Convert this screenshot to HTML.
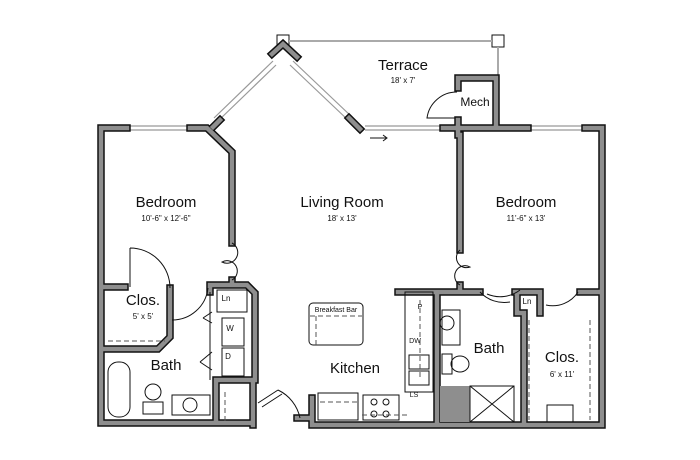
<!DOCTYPE html>
<html><head><meta charset="utf-8"><style>
html,body{margin:0;padding:0;background:#fff}
svg{display:block}
text{font-family:"Liberation Sans",sans-serif;fill:#111}
.w{fill:none;stroke:#111;stroke-width:7.5;stroke-linejoin:miter;stroke-linecap:square}
.wi{fill:none;stroke:#8e8e8e;stroke-width:4.5;stroke-linejoin:miter;stroke-linecap:square}
.t{fill:none;stroke:#111;stroke-width:1}
.g{fill:none;stroke:#999;stroke-width:1.2}
.d{fill:none;stroke:#555;stroke-width:1;stroke-dasharray:5 3}
</style></head><body>
<svg width="700" height="460" viewBox="0 0 700 460" xmlns="http://www.w3.org/2000/svg">
<defs>
<path id="walls" fill="none" d="M127 128 H101 V423 H253 M190 128 H207 L232 152 V243 M232 280 V283 M101 287 H125 M101 349 H158 L170 337 V288 M210 285 H247 L255 293 V380 M210 285 V292 M216 380 H253 M216 380 V423 M253 380 V425 M297 418 H312 V425 M312 398 V425 H602 V128 H585 M528 128 H443 M496 128 V78 H458 V88 M458 120 V135 M460 135 V250 M460 285 V292 M272 54 L283 44 L297 57 M213 127 L220 120 M349 118 L360 129 M398 292 H480 M515 292 H540 M580 292 H602 M517 292 V313 H524 V425 M540 292 V313 M437 292 V425"/>
</defs>
<rect x="277" y="35" width="12" height="12" fill="#fff" stroke="#111"/>
<rect x="492" y="35" width="12" height="12" fill="#fff" stroke="#111"/>
<line x1="289" y1="41" x2="492" y2="41" stroke="#aaa" stroke-width="2"/>
<line x1="498" y1="47" x2="498" y2="75" stroke="#aaa" stroke-width="2"/>
<g class="g">
<line x1="127" y1="126" x2="190" y2="126"/><line x1="127" y1="130" x2="190" y2="130"/>
<line x1="214" y1="118" x2="273" y2="61"/><line x1="218" y1="121" x2="276" y2="65"/>
<line x1="293" y1="61" x2="352" y2="117"/><line x1="290" y1="65" x2="349" y2="121"/>
<line x1="365" y1="126" x2="443" y2="126"/><line x1="365" y1="130" x2="443" y2="130"/>
<line x1="528" y1="126" x2="585" y2="126"/><line x1="528" y1="130" x2="585" y2="130"/>
</g>
<use href="#walls" class="w"/>
<use href="#walls" class="wi"/>
<rect x="440" y="386" width="30" height="36" fill="#8e8e8e"/>
<g class="t">
<path d="M457 92 A30 30 0 0 0 427 118 H455"/>
<path d="M232 243 A10 10 0 0 1 222 262 A10 10 0 0 1 232 280"/>
<path d="M460 250 A10 10 0 0 0 470 267 A10 10 0 0 0 460 285"/>
<path d="M130 248 V287 M130 248 A40 40 0 0 1 170 288"/>
<path d="M172 320 A36 36 0 0 0 208 288"/>
<path d="M520 290 A33 33 0 0 1 487 294 M510 302 A33 33 0 0 1 480 292"/>
<path d="M546 305 A30 30 0 0 0 578 292"/>
<path d="M258 403 L278 390 M262 407 L282 394 M278 390 A40 40 0 0 1 300 418"/>
<path d="M203 318 L212 323 M203 318 L212 312 M200 362 L212 370 M200 362 L212 352"/>
<line x1="370" y1="138" x2="386" y2="138"/><path d="M383 135 L387 138 L383 141"/>
<line x1="210" y1="292" x2="210" y2="380"/>
</g>
<g class="t">
<rect x="108" y="362" width="22" height="55" rx="10"/>
<circle cx="153" cy="392" r="8"/><rect x="143" y="402" width="20" height="12"/>
<rect x="172" y="395" width="38" height="20"/><circle cx="190" cy="405" r="7"/>
<rect x="222" y="318" width="22" height="28"/><rect x="222" y="348" width="22" height="28"/>
<rect x="217" y="290" width="30" height="22"/>
<rect x="309" y="303" width="54" height="42" rx="4"/>
<rect x="318" y="393" width="40" height="27"/><rect x="363" y="395" width="36" height="25"/>
<circle cx="374" cy="402" r="3"/><circle cx="386" cy="402" r="3"/><circle cx="374" cy="414" r="3"/><circle cx="386" cy="414" r="3"/>
<rect x="405" y="292" width="28" height="100"/><rect x="409" y="355" width="20" height="14"/><rect x="409" y="371" width="20" height="14"/>
<rect x="442" y="310" width="18" height="35"/><circle cx="447" cy="323" r="7"/>
<rect x="442" y="354" width="10" height="20"/><ellipse cx="460" cy="364" rx="9" ry="8"/>
<rect x="470" y="386" width="44" height="36"/><path d="M470 386 L514 422 M514 386 L470 422"/>
<rect x="547" y="405" width="26" height="17"/>
</g>
<g class="d">
<path d="M108 341 H165 M310 316 H362 M316 316 V345 M420 300 V380 M320 402 H360 M362 415 H410 M529 320 V420 M590 320 V420 M225 392 V422"/>
</g>
<g text-anchor="middle">
<text x="403" y="70" font-size="15">Terrace</text>
<text x="403" y="83" font-size="8">18' x 7'</text>
<text x="475" y="106" font-size="12">Mech</text>
<text x="166" y="207" font-size="15">Bedroom</text>
<text x="166" y="221" font-size="8">10'-6" x 12'-6"</text>
<text x="342" y="207" font-size="15">Living Room</text>
<text x="342" y="221" font-size="8">18' x 13'</text>
<text x="526" y="207" font-size="15">Bedroom</text>
<text x="526" y="221" font-size="8">11'-6" x 13'</text>
<text x="143" y="305" font-size="15">Clos.</text>
<text x="143" y="319" font-size="8">5' x 5'</text>
<text x="226" y="301" font-size="8">Ln</text>
<text x="230" y="331" font-size="8">W</text>
<text x="228" y="359" font-size="8">D</text>
<text x="166" y="370" font-size="15">Bath</text>
<text x="336" y="312" font-size="7">Breakfast Bar</text>
<text x="355" y="373" font-size="15">Kitchen</text>
<text x="489" y="353" font-size="15">Bath</text>
<text x="562" y="362" font-size="15">Clos.</text>
<text x="562" y="377" font-size="8">6' x 11'</text>
<text x="527" y="304" font-size="8">Ln</text>
<text x="420" y="309" font-size="7">P</text>
<text x="415" y="343" font-size="7">DW</text>
<text x="414" y="397" font-size="7">LS</text>
</g>
</svg>
</body></html>
